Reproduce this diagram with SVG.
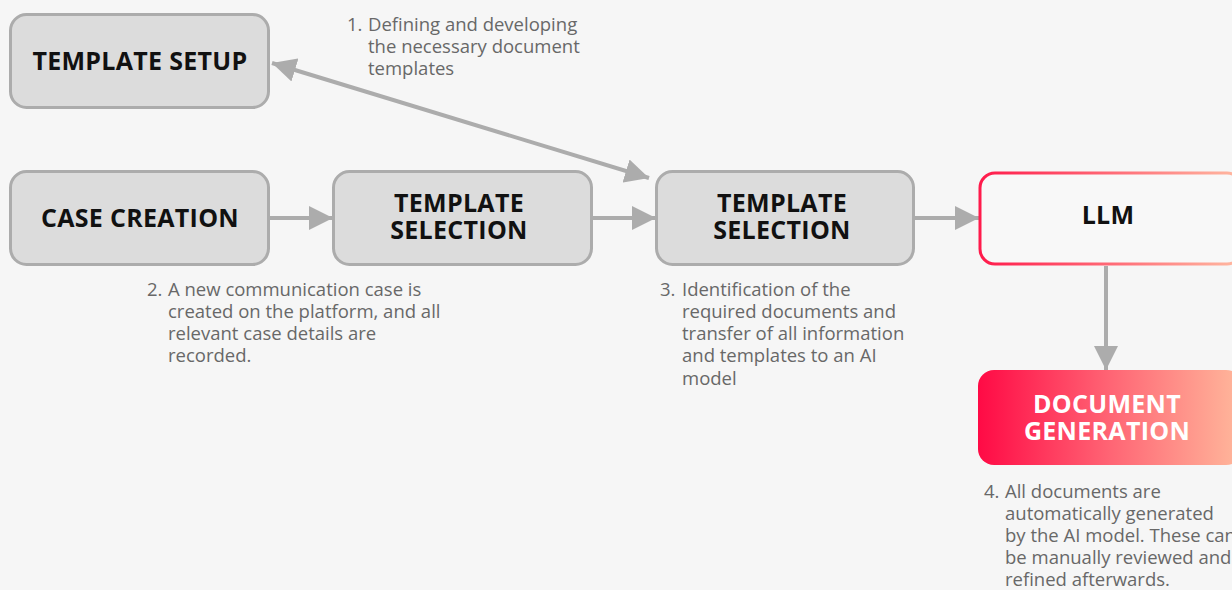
<svg xmlns="http://www.w3.org/2000/svg" width="1232" height="590" viewBox="0 0 1232 590">
  <defs>
    <style>
      .box { fill: #dcdcdc; stroke: #acacac; stroke-width: 3; }
      .title { font-family: "Open Sans", "Liberation Sans", sans-serif; font-weight: 700; font-size: 25px; fill: #111111; text-anchor: middle; letter-spacing: 0.3px; }
      .white { fill: #ffffff; }
      .note { font-family: "Open Sans", "Liberation Sans", sans-serif; font-size: 18.5px; fill: #686868; }
      .link { stroke: #acacac; stroke-width: 4; fill: none; }
    </style>
    <linearGradient id="redStroke" x1="979" y1="0" x2="1240" y2="0" gradientUnits="userSpaceOnUse">
      <stop offset="0" stop-color="#ff1a4b"/>
      <stop offset="1" stop-color="#ffb9a1"/>
    </linearGradient>
    <linearGradient id="redFill" x1="978" y1="0" x2="1240" y2="0" gradientUnits="userSpaceOnUse">
      <stop offset="0" stop-color="#ff0a45"/>
      <stop offset="0.5" stop-color="#ff6474"/>
      <stop offset="1" stop-color="#ffb79b"/>
    </linearGradient>
    <marker id="head" viewBox="0 0 10 10" refX="10" refY="5" markerWidth="6" markerHeight="6" markerUnits="strokeWidth" orient="auto-start-reverse">
      <path d="M0,0 L10,5 L0,10 Z" fill="#acacac"/>
    </marker>
  </defs>

  <rect width="1232" height="590" fill="#f6f6f6"/>

  <!-- connectors -->
  <g id="connectors">
    <line class="link" x1="269" y1="218" x2="333" y2="218" marker-end="url(#head)"/>
    <line class="link" x1="592" y1="218" x2="656" y2="218" marker-end="url(#head)"/>
    <line class="link" x1="914" y1="218" x2="979" y2="218" marker-end="url(#head)"/>
    <line class="link" x1="1106" y1="266" x2="1106" y2="370" marker-end="url(#head)"/>
    <line class="link" x1="272" y1="63" x2="649" y2="178" marker-start="url(#head)" marker-end="url(#head)"/>
  </g>

  <g id="template-setup">
    <rect class="box" x="10.5" y="14.5" width="258" height="93" rx="16"/>
    <text class="title" x="140" y="70">TEMPLATE SETUP</text>
  </g>

  <g id="case-creation">
    <rect class="box" x="10.5" y="171.5" width="258" height="93" rx="16"/>
    <text class="title" x="140" y="227">CASE CREATION</text>
  </g>

  <g id="template-selection-1">
    <rect class="box" x="333.5" y="171.5" width="258" height="93" rx="16"/>
    <text class="title" x="459" y="212">TEMPLATE</text>
    <text class="title" x="459" y="239">SELECTION</text>
  </g>

  <g id="template-selection-2">
    <rect class="box" x="656.5" y="171.5" width="257" height="93" rx="16"/>
    <text class="title" x="782" y="212">TEMPLATE</text>
    <text class="title" x="782" y="239">SELECTION</text>
  </g>

  <g id="llm">
    <rect x="980" y="173" width="262" height="91" rx="15" fill="#f8f8f8" stroke="url(#redStroke)" stroke-width="3"/>
    <text class="title" x="1108" y="224">LLM</text>
  </g>

  <g id="document-generation">
    <rect x="978" y="370" width="264" height="95" rx="16" fill="url(#redFill)"/>
    <text class="title white" x="1107" y="413">DOCUMENT</text>
    <text class="title white" x="1107" y="440">GENERATION</text>
  </g>

  <!-- step descriptions -->
  <g id="note-1" class="note">
    <text x="347" y="31">1.</text>
    <text x="368" y="31">Defining and developing</text>
    <text x="368" y="53">the necessary document</text>
    <text x="368" y="75">templates</text>
  </g>

  <g id="note-2" class="note">
    <text x="147" y="296">2.</text>
    <text x="168" y="296">A new communication case is</text>
    <text x="168" y="318">created on the platform, and all</text>
    <text x="168" y="340">relevant case details are</text>
    <text x="168" y="362">recorded.</text>
  </g>

  <g id="note-3" class="note">
    <text x="660" y="296">3.</text>
    <text x="682" y="296">Identification of the</text>
    <text x="682" y="318">required documents and</text>
    <text x="682" y="340">transfer of all information</text>
    <text x="682" y="362">and templates to an AI</text>
    <text x="682" y="385">model</text>
  </g>

  <g id="note-4" class="note">
    <text x="984" y="498">4.</text>
    <text x="1005" y="498">All documents are</text>
    <text x="1005" y="520">automatically generated</text>
    <text x="1005" y="542">by the AI model. These can</text>
    <text x="1005" y="564">be manually reviewed and</text>
    <text x="1005" y="586">refined afterwards.</text>
  </g>
</svg>
